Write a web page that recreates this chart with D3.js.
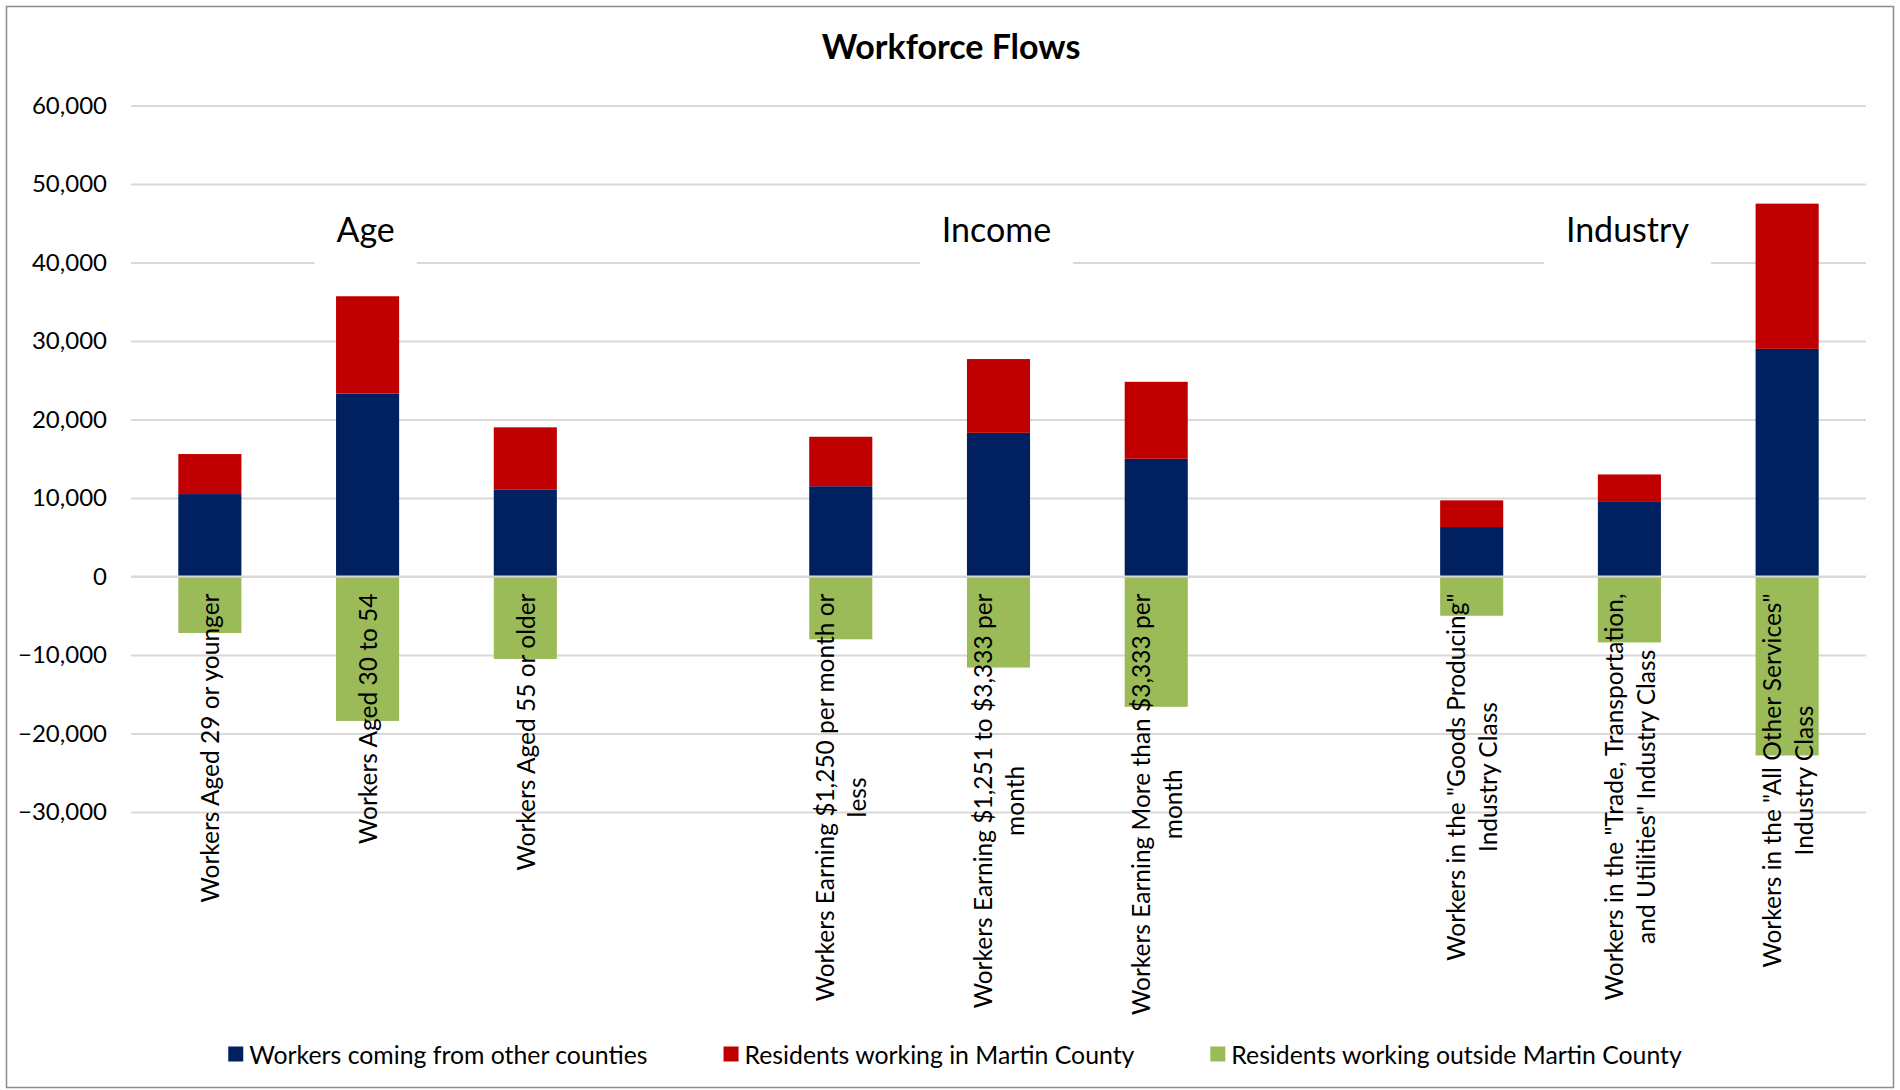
<!DOCTYPE html>
<html>
<head>
<meta charset="utf-8">
<script src="https://cdn.jsdelivr.net/npm/d3@7"></script>
<style>
  html, body { margin: 0; padding: 0; background: #fff; }
  svg { display: block; font-family: Lato, "Open Sans", sans-serif; }
</style>
</head>
<body>
<svg id="chart" width="1900" height="1090"></svg>
<script>
// Category labels (one entry per line of the wrapped label)
const categories = [
  ["Workers Aged 29 or younger"],
  ["Workers Aged 30 to 54"],
  ["Workers Aged 55 or older"],
  ["Workers Earning $1,250 per month or", "less"],
  ["Workers Earning $1,251 to $3,333 per", "month"],
  ["Workers Earning More than $3,333 per", "month"],
  ["Workers in the \"Goods Producing\"", "Industry Class"],
  ["Workers in the \"Trade, Transportation,", "and Utilities\" Industry Class"],
  ["Workers in the \"All Other Services\"", "Industry Class"]
];
// Which group each category belongs to
const categoryGroup = ["Age", "Age", "Age", "Income", "Income", "Income", "Industry", "Industry", "Industry"];
const groups = ["Age", "Income", "Industry"];

// Series values
const seriesNames = ["Workers coming from other counties", "Residents working in Martin County", "Residents working outside Martin County"];
const comingIn   = [10500, 23300, 11100, 11500, 18300, 15000, 6300, 9500, 29000];
const residentsIn = [5100, 12400, 7900, 6300, 9400, 9800, 3400, 3500, 18500];
const goingOut   = [-7200, -18400, -10500, -8000, -11600, -16600, -5000, -8400, -22800];

const yTicks = [-30000, -20000, -10000, 0, 10000, 20000, 30000, 40000, 50000, 60000];
const colors = ["#002060", "#C00000", "#9BBB59"];

const W = 1900, H = 1090;
const svg = d3.select("#chart");

// outer frame
svg.append("rect").attr("x", 6.5).attr("y", 6.5).attr("width", W - 13).attr("height", H - 9)
  .attr("fill", "#fff").attr("stroke", "#8c8c8c").attr("stroke-width", 1.5);

// title
svg.append("text").attr("x", 951).attr("y", 59).attr("text-anchor", "middle")
  .attr("font-size", 34).attr("font-weight", "bold").attr("fill", "#000").text("Workforce Flows");

// band domain: categories with a spacer slot between groups
const slots = [];
categories.forEach((c, i) => {
  if (i > 0 && categoryGroup[i] !== categoryGroup[i - 1]) slots.push("gap" + i);
  slots.push("c" + i);
});

const x = d3.scaleBand().domain(slots).range([131, 1866]).paddingInner(0.6).paddingOuter(0.3);
const y = d3.scaleLinear().domain([-30000, 60000]).range([812, 105.5]);

// gridlines
const yAxis = d3.axisLeft(y).tickValues(yTicks).tickSize(-(1866 - 131)).tickFormat(d3.format(","));
const gAxis = svg.append("g").attr("transform", "translate(131,0)").call(yAxis);
gAxis.select(".domain").remove();
gAxis.selectAll(".tick line").attr("stroke", "#d9d9d9").attr("stroke-width", 2);
gAxis.selectAll(".tick text").attr("x", -24).attr("font-size", 24).attr("fill", "#000")
  .attr("font-family", "Lato, sans-serif");

// stacked bars
const bars = svg.append("g");
categories.forEach((c, i) => {
  const bx = x("c" + i), bw = x.bandwidth();
  bars.append("rect").attr("x", bx).attr("width", bw)
    .attr("y", y(comingIn[i])).attr("height", y(0) - y(comingIn[i])).attr("fill", colors[0]);
  bars.append("rect").attr("x", bx).attr("width", bw)
    .attr("y", y(comingIn[i] + residentsIn[i])).attr("height", y(comingIn[i]) - y(comingIn[i] + residentsIn[i]))
    .attr("fill", colors[1]);
  bars.append("rect").attr("x", bx).attr("width", bw)
    .attr("y", y(0)).attr("height", y(goingOut[i]) - y(0)).attr("fill", colors[2]);
});

// zero axis line over the bars
svg.append("line").attr("x1", 131).attr("x2", 1866).attr("y1", y(0)).attr("y2", y(0))
  .attr("stroke", "#d9d9d9").attr("stroke-width", 2);

// group captions with white backing boxes, centred over each group's middle bar
const captions = svg.append("g");
groups.forEach(gname => {
  const idx = categoryGroup.map((g, i) => g === gname ? i : -1).filter(i => i >= 0);
  const cx = (x("c" + idx[0]) + x("c" + idx[idx.length - 1]) + x.bandwidth()) / 2 - 2;
  const box = captions.append("rect").attr("y", 205).attr("height", 59).attr("fill", "#fff");
  const t = captions.append("text").attr("x", cx).attr("y", 242).attr("text-anchor", "middle")
    .attr("font-size", 34).attr("fill", "#000").text(gname);
  const len = t.node().getComputedTextLength();
  box.attr("x", cx - len / 2 - 22).attr("width", len + 44);
});

// rotated category labels below the zero line
const labelTop = y(0) + 17;
const lineGap = 32;
categories.forEach((lines, i) => {
  const cx = x("c" + i) + x.bandwidth() / 2;
  const g = svg.append("g").attr("transform", `translate(${cx},${labelTop}) rotate(-90)`);
  const texts = lines.map((ln, k) => g.append("text")
    .attr("y", (k - (lines.length - 1) / 2) * lineGap)
    .attr("dominant-baseline", "central")
    .attr("text-anchor", "middle")
    .attr("font-size", 24.5).attr("fill", "#000").text(ln));
  const block = d3.max(texts, t => t.node().getComputedTextLength());
  texts.forEach(t => t.attr("x", -block / 2));
});

// legend
const legend = svg.append("g");
const items = seriesNames.map((name, i) => {
  const g = legend.append("g");
  g.append("rect").attr("width", 15).attr("height", 15).attr("y", -7.5).attr("fill", colors[i]);
  const t = g.append("text").attr("x", 21).attr("dominant-baseline", "central")
    .attr("font-size", 24.8).attr("fill", "#000").text(name);
  return { g, w: 21 + t.node().getComputedTextLength() };
});
const spacing = 76;
const total = d3.sum(items, d => d.w) + spacing * (items.length - 1);
let lx = 955 - total / 2;
items.forEach(it => { it.g.attr("transform", `translate(${lx},1054)`); lx += it.w + spacing; });
</script>
</body>
</html>
